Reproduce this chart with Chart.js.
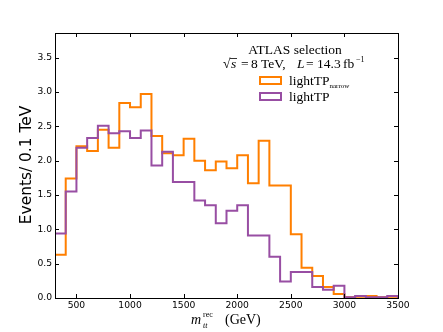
<!DOCTYPE html>
<html>
<head>
<meta charset="utf-8">
<script src="https://cdn.jsdelivr.net/npm/chart.js@4"></script>
<style>
  html, body { margin: 0; padding: 0; background: #fff; }
  #wrap { width: 443px; height: 332px; position: relative; }
</style>
</head>
<body>
<div id="wrap"><canvas id="grafico" width="443" height="332"></canvas></div>
<script>
// Bordes inferiores de cada bin (GeV), bins de 100 GeV
const bordes = [300, 400, 500, 600, 700, 800, 900, 1000, 1100, 1200, 1300, 1400, 1500, 1600,
  1700, 1800, 1900, 2000, 2100, 2200, 2300, 2400, 2500, 2600, 2700, 2800, 2900, 3000,
  3100, 3200, 3300, 3400];
const bordeFinal = 3500;

// Eventos / 0.1 TeV
const lightTPnarrow = [0.63, 1.74, 2.21, 2.14, 2.45, 2.19, 2.84, 2.78, 2.97, 2.36, 2.11, 2.08,
  2.32, 2.00, 1.86, 1.99, 1.89, 2.08, 1.67, 2.29, 1.64, 1.64, 0.93, 0.44, 0.32, 0.16, 0.06,
  0.01, 0.02, 0.03, 0.01, 0.02];
const lightTP = [0.94, 1.55, 2.19, 2.33, 2.51, 2.40, 2.43, 2.33, 2.44, 1.93, 2.13, 1.69,
  1.69, 1.42, 1.35, 1.09, 1.27, 1.35, 0.91, 0.91, 0.60, 0.24, 0.38, 0.38, 0.16, 0.12, 0.18,
  0.01, 0.03, 0.01, 0.01, 0.03];

const ticksX = [500, 1000, 1500, 2000, 2500, 3000, 3500];
const ticksY = [0.0, 0.5, 1.0, 1.5, 2.0, 2.5, 3.0, 3.5];

const naranja = '#ff7f00';
const morado = '#984ea3';

// Convierte un histograma en puntos para una línea escalonada
function escalones(valores) {
  const puntos = [{ x: bordes[0], y: 0 }];
  valores.forEach((v, i) => puntos.push({ x: bordes[i], y: v }));
  puntos.push({ x: bordeFinal, y: 0 });
  return puntos;
}

// Marco, ticks hacia dentro y textos estilo matplotlib
const decoracion = {
  id: 'decoracion',
  afterDraw(chart) {
    const ctx = chart.ctx;
    const a = chart.chartArea;
    const sx = chart.scales.x, sy = chart.scales.y;
    ctx.save();
    ctx.strokeStyle = '#000';
    ctx.lineWidth = 1;
    ctx.strokeRect(Math.round(a.left) + 0.5, Math.round(a.top) + 0.5,
      Math.round(a.right - a.left), Math.round(a.bottom - a.top));
    ctx.beginPath();
    ticksX.forEach(t => {
      const px = Math.round(sx.getPixelForValue(t)) + 0.5;
      ctx.moveTo(px, a.bottom); ctx.lineTo(px, a.bottom - 4);
      ctx.moveTo(px, a.top); ctx.lineTo(px, a.top + 4);
    });
    ticksY.forEach(t => {
      const py = Math.round(sy.getPixelForValue(t)) + 0.5;
      ctx.moveTo(a.left, py); ctx.lineTo(a.left + 4, py);
      ctx.moveTo(a.right, py); ctx.lineTo(a.right - 4, py);
    });
    ctx.stroke();

    // Título eje Y
    ctx.fillStyle = '#000';
    ctx.font = '15.4px "DejaVu Sans"';
    ctx.textAlign = 'center';
    ctx.textBaseline = 'middle';
    ctx.save();
    ctx.translate(27, 165);
    ctx.rotate(-Math.PI / 2);
    ctx.fillText('Events/ 0.1 TeV', 0, 0);
    ctx.restore();

    // Título eje X: m_tt^rec (GeV)
    const serif = '"Liberation Serif", "DejaVu Serif", serif';
    ctx.textAlign = 'left';
    ctx.textBaseline = 'alphabetic';
    ctx.font = 'italic 14px ' + serif;
    ctx.fillText('m', 191, 324);
    ctx.font = 'italic 8px ' + serif;
    ctx.fillText('tt', 203, 328);
    ctx.font = '8px ' + serif;
    ctx.fillText('rec', 203, 317);
    ctx.font = '14px ' + serif;
    ctx.fillText('(GeV)', 225, 324);

    // Anotaciones
    ctx.textAlign = 'center';
    ctx.font = '13.5px ' + serif;
    ctx.fillText('ATLAS selection', 295, 54);
    ctx.textAlign = 'left';
    const base = 68;
    ctx.font = '13.5px ' + serif;
    ctx.fillText('\u221A', 223, base);
    ctx.beginPath(); ctx.moveTo(230, 58.5); ctx.lineTo(237, 58.5); ctx.lineWidth = 0.8; ctx.stroke();
    ctx.font = 'italic 13.5px ' + serif;
    ctx.fillText('s', 231, base);
    ctx.font = '13.5px ' + serif;
    ctx.fillText('=', 241, base);
    ctx.fillText('8', 251, base);
    ctx.fillText('TeV,', 261, base);
    ctx.font = 'italic 13.5px ' + serif;
    ctx.fillText('L', 297, base);
    ctx.font = '13.5px ' + serif;
    ctx.fillText('=', 306, base);
    ctx.fillText('14.3', 317, base);
    ctx.fillText('fb', 343, base);
    ctx.font = '8px ' + serif;
    ctx.fillText('\u22121', 356, 62);

    // Leyenda
    ctx.lineWidth = 2;
    ctx.strokeStyle = naranja;
    ctx.strokeRect(260, 77, 21, 7);
    ctx.strokeStyle = morado;
    ctx.strokeRect(260, 93, 21, 7);
    ctx.font = '13.5px ' + serif;
    ctx.fillText('lightTP', 289, 85);
    const w = ctx.measureText('lightTP').width;
    ctx.font = '7px ' + serif;
    ctx.fillText('narrow', 289 + w, 88);
    ctx.font = '13.5px ' + serif;
    ctx.fillText('lightTP', 289, 101);
    ctx.restore();
  }
};

const ctx = document.getElementById('grafico').getContext('2d');
new Chart(ctx, {
  type: 'line',
  data: {
    datasets: [
      {
        label: 'lightTP',
        data: escalones(lightTP),
        borderColor: morado,
        borderWidth: 2,
        stepped: 'before',
        pointRadius: 0,
        fill: false
      },
      {
        label: 'lightTP narrow',
        data: escalones(lightTPnarrow),
        borderColor: naranja,
        borderWidth: 2,
        stepped: 'before',
        pointRadius: 0,
        fill: false
      }
    ]
  },
  options: {
    responsive: false,
    animation: false,
    layout: { padding: { left: 0, right: 45, top: 33, bottom: 0 } },
    plugins: { legend: { display: false }, tooltip: { enabled: false } },
    scales: {
      x: {
        type: 'linear',
        min: 300,
        max: 3500,
        border: { display: false },
        grid: { display: false, drawTicks: false },
        afterBuildTicks: s => { s.ticks = ticksX.map(v => ({ value: v })); },
        afterFit: s => { s.height = 34; },
        ticks: {
          padding: 2,
          color: '#000',
          font: { family: 'DejaVu Sans', size: 9.2 },
          maxRotation: 0,
          autoSkip: false,
          callback: v => String(v)
        }
      },
      y: {
        min: 0,
        max: 3.86,
        border: { display: false },
        grid: { display: false, drawTicks: false },
        afterBuildTicks: s => { s.ticks = ticksY.map(v => ({ value: v })); },
        afterFit: s => { s.width = 55; },
        ticks: {
          padding: 3,
          color: '#000',
          font: { family: 'DejaVu Sans', size: 9.2 },
          autoSkip: false,
          callback: v => v.toFixed(1)
        }
      }
    }
  },
  plugins: [decoracion]
});
</script>
</body>
</html>
